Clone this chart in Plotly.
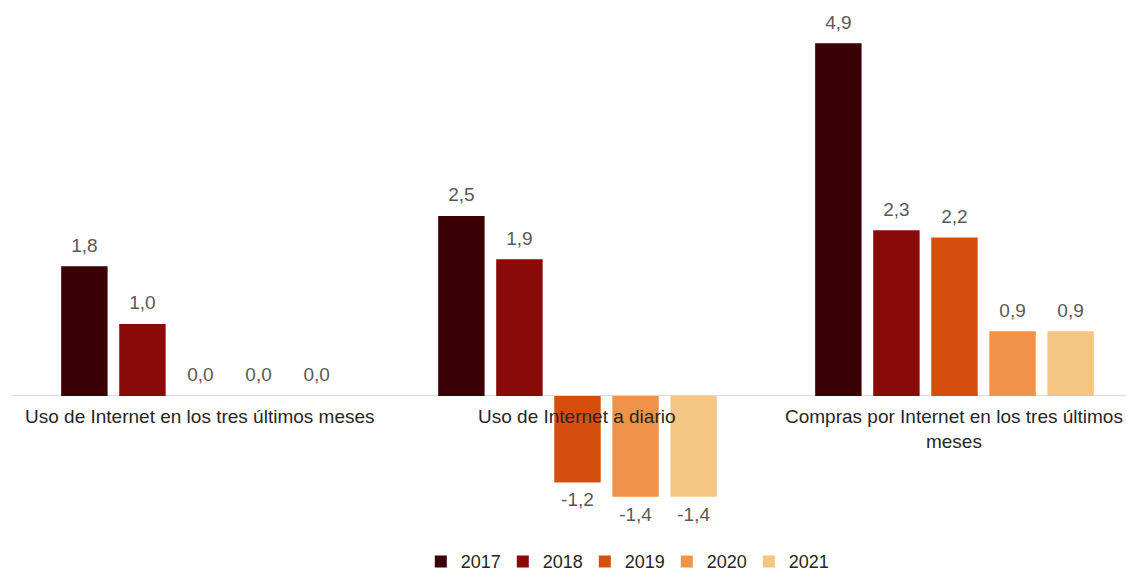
import plotly.graph_objects as go

categories = [
    "Uso de Internet en los tres últimos meses",
    "Uso de Internet a diario",
    "Compras por Internet en los tres últimos<br>meses",
]
years = ["2017", "2018", "2019", "2020", "2021"]
values = {
    "2017": [1.8, 2.5, 4.9],
    "2018": [1.0, 1.9, 2.3],
    "2019": [0.0, -1.2, 2.2],
    "2020": [0.0, -1.4, 0.9],
    "2021": [0.0, -1.4, 0.9],
}
colors = {
    "2017": "#3b0004",
    "2018": "#8a0a0a",
    "2019": "#d64e0e",
    "2020": "#ee9348",
    "2021": "#f5c583",
}

FONT = "Liberation Sans, Arial"
x_pos = list(range(len(categories)))
fig = go.Figure()
for yr in years:
    fig.add_trace(
        go.Bar(
            x=x_pos,
            y=values[yr],
            name=yr,
            marker=dict(color=colors[yr], line=dict(width=0)),
            hoverinfo="skip",
        )
    )

# value labels, grouped like the bars, pushed off the bar end by an invisible marker
for yr in years:
    fig.add_trace(
        go.Scatter(
            x=x_pos,
            y=values[yr],
            mode="markers+text",
            marker=dict(size=14, opacity=0),
            text=[f"{v:.1f}".replace(".", ",") for v in values[yr]],
            textposition=["bottom center" if v < 0 else "top center" for v in values[yr]],
            textfont=dict(family=FONT, size=19, color="#595959"),
            showlegend=False,
            cliponaxis=False,
            hoverinfo="skip",
        )
    )

for i, cat in enumerate(categories):
    fig.add_annotation(
        x=i, y=0, text=cat, showarrow=False,
        yanchor="top", yshift=-8,
        font=dict(family=FONT, size=19, color="#262626"),
    )

fig.update_layout(
    width=1126,
    height=576,
    margin=dict(l=12, r=0, t=10, b=36, autoexpand=False),
    plot_bgcolor="white",
    paper_bgcolor="white",
    barmode="group",
    scattermode="group",
    bargap=0.23,
    bargroupgap=0.2,
    showlegend=True,
    legend=dict(
        orientation="h", x=0.551, xanchor="center", y=-0.006, yanchor="top",
        font=dict(family=FONT, size=18, color="#262626"),
        itemwidth=30, entrywidth=37, traceorder="normal",
    ),
    font=dict(family=FONT),
)
fig.update_xaxes(range=[-0.5, 2.455], showticklabels=False, showgrid=False,
                 zeroline=False, showline=False)
fig.update_yaxes(range=[-2.0, 5.36], showticklabels=False, showgrid=False,
                 zeroline=True, zerolinecolor="#d9d9d9", zerolinewidth=1)

# drop the default 8px body margin so the figure fills the window
fig.write_html(
    "out.html",
    config={"displayModeBar": False},
    post_script="document.body.style.margin = '0';",
)
